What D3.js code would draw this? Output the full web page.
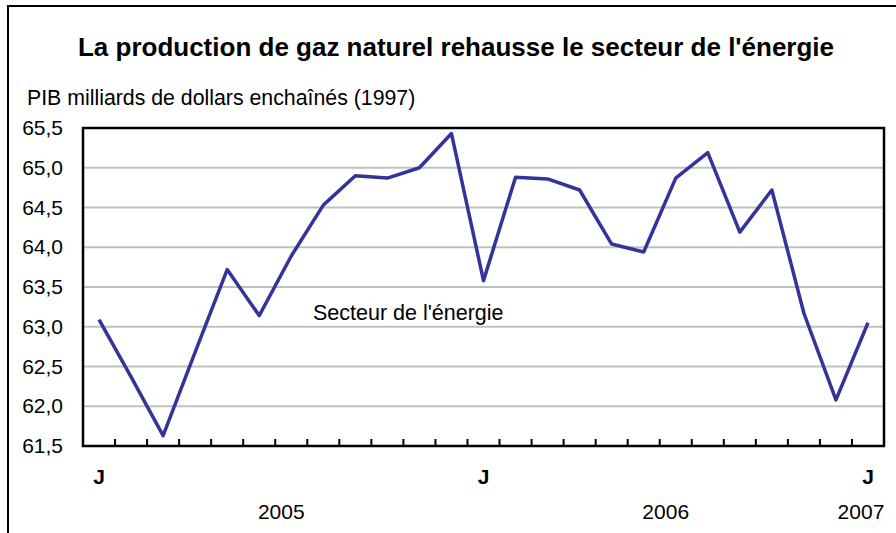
<!DOCTYPE html>
<html>
<head>
<meta charset="utf-8">
<script src="https://cdn.jsdelivr.net/npm/d3@7"></script>
<style>
  body { margin: 0; background: #fff; }
  text { font-family: Arial, "Liberation Sans", sans-serif; fill: #000; }
</style>
</head>
<body>
<div class="chart"></div>
<script>
// Data
const months = [
    "2005-01", "2005-02", "2005-03", "2005-04", "2005-05", "2005-06",
    "2005-07", "2005-08", "2005-09", "2005-10", "2005-11", "2005-12",
    "2006-01", "2006-02", "2006-03", "2006-04", "2006-05", "2006-06",
    "2006-07", "2006-08", "2006-09", "2006-10", "2006-11", "2006-12",
    "2007-01"
];
const energie = [
    63.09, 62.37, 61.63, 62.68, 63.72, 63.14,
    63.89, 64.53, 64.90, 64.87, 65.00, 65.43,
    63.58, 64.88, 64.86, 64.72, 64.04, 63.94,
    64.87, 65.19, 64.19, 64.72, 63.17, 62.08,
    63.05
];
const yTicks = [61.5, 62.0, 62.5, 63.0, 63.5, 64.0, 64.5, 65.0, 65.5];
const janLabels = ["2005-01", "2006-01", "2007-01"];
const years = ["2005", "2006", "2007"];

const title = "La production de gaz naturel rehausse le secteur de l'énergie";
const yTitle = "PIB milliards de dollars enchaînés (1997)";
const seriesName = "Secteur de l'énergie";

// Layout
const W = 896, H = 533;
const plot = { left: 83, right: 884, top: 128, bottom: 446 };

const svg = d3.select(".chart").append("svg")
    .attr("width", W)
    .attr("height", H);

// outer frame (only top + left visible in the original)
svg.append("rect")
    .attr("x", 8).attr("y", 6)
    .attr("width", 1000).attr("height", 1000)
    .attr("fill", "none")
    .attr("stroke", "#000")
    .attr("stroke-width", 2);

// Scales
const x = d3.scaleBand().domain(months).range([plot.left, plot.right]);
const y = d3.scaleLinear().domain([61.5, 65.5]).range([plot.bottom, plot.top]);
const cx = d => x(d) + x.bandwidth() / 2;

const fr = d3.formatLocale({ decimal: ",", thousands: " ", grouping: [3], currency: ["", "$"] });
const fmt = fr.format(".1f");

// gridlines
svg.append("g")
    .selectAll("line")
    .data(yTicks.slice(1, -1))
    .enter().append("line")
    .attr("x1", plot.left).attr("x2", plot.right)
    .attr("y1", d => y(d)).attr("y2", d => y(d))
    .attr("stroke", "#c0c0c0")
    .attr("stroke-width", 2);

// y axis labels
const yAxis = d3.axisLeft(y).tickValues(yTicks).tickSize(0).tickPadding(20).tickFormat(fmt);
svg.append("g")
    .attr("transform", "translate(" + plot.left + ",0)")
    .call(yAxis)
    .call(g => g.select(".domain").remove())
    .selectAll("text")
    .style("font-size", "21px")
    .style("font-family", "Arial, 'Liberation Sans', sans-serif")
    .attr("fill", "#000");

// month ticks (inside, at band boundaries)
svg.append("g")
    .selectAll("line")
    .data(months.slice(1))
    .enter().append("line")
    .attr("x1", d => x(d)).attr("x2", d => x(d))
    .attr("y1", plot.bottom).attr("y2", plot.bottom - 7)
    .attr("stroke", "#000")
    .attr("stroke-width", 2);

// plot frame
svg.append("rect")
    .attr("x", plot.left).attr("y", plot.top)
    .attr("width", plot.right - plot.left)
    .attr("height", plot.bottom - plot.top)
    .attr("fill", "none")
    .attr("stroke", "#000")
    .attr("stroke-width", 2.5);

// series line
const line = d3.line()
    .x((d, i) => cx(months[i]))
    .y(d => y(d));

svg.append("path")
    .datum(energie)
    .attr("d", line)
    .attr("fill", "none")
    .attr("stroke", "#333399")
    .attr("stroke-width", 3.5)
    .attr("stroke-linejoin", "round");

// titles
svg.append("text")
    .attr("x", 456).attr("y", 56)
    .attr("text-anchor", "middle")
    .style("font-size", "26px")
    .style("font-weight", "bold")
    .text(title);

svg.append("text")
    .attr("x", 27).attr("y", 105)
    .style("font-size", "21.3px")
    .text(yTitle);

svg.append("text")
    .attr("x", 313).attr("y", 320)
    .style("font-size", "21.5px")
    .text(seriesName);

// x labels: J under each January, years below
svg.append("g")
    .selectAll("text")
    .data(janLabels)
    .enter().append("text")
    .attr("x", d => cx(d))
    .attr("y", 484)
    .attr("text-anchor", "middle")
    .style("font-size", "21px")
    .style("font-weight", "bold")
    .text("J");

const yearX = [
    (x("2005-01") + x("2005-12") + x.bandwidth()) / 2 + 6,
    (x("2006-01") + x("2006-12") + x.bandwidth()) / 2 + 6,
    cx("2007-01") - 7
];
svg.append("g")
    .selectAll("text")
    .data(years)
    .enter().append("text")
    .attr("x", (d, i) => yearX[i])
    .attr("y", 519)
    .attr("text-anchor", "middle")
    .style("font-size", "21px")
    .text(d => d);
</script>
</body>
</html>
